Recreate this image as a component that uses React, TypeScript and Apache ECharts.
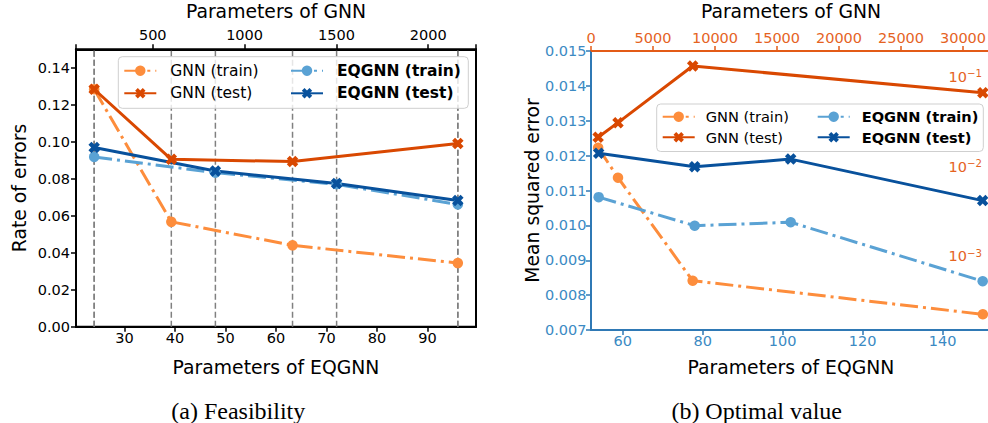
import React, { useEffect, useRef } from 'react';
import * as echarts from 'echarts';

// ---------- (a) Feasibility ----------
const eqgnnParamsA = [24, 48, 72, 96];
const gnnParamsA = [181, 601, 1261, 2161];
const gnnTrainA = [0.1284, 0.0567, 0.044, 0.0344];
const gnnTestA = [0.1284, 0.0905, 0.0893, 0.0991];
const eqgnnTrainA = [0.0918, 0.0833, 0.077, 0.0661];
const eqgnnTestA = [0.0969, 0.0842, 0.0774, 0.0683];
const xTicksBottomA = [30, 40, 50, 60, 70, 80, 90];
const xTicksTopA = [500, 1000, 1500, 2000];
const yTicksA = [0, 0.02, 0.04, 0.06, 0.08, 0.1, 0.12, 0.14];

// ---------- (b) Optimal value ----------
const eqgnnParamsB = [54, 78, 102, 150];
const gnnParamsB = [577, 2177, 8200, 31600];
const eqgnnTrainB = [0.01081, 0.00999, 0.01009, 0.0084];
const eqgnnTestB = [0.01207, 0.01168, 0.0119, 0.01071];
const gnnTrainB = [0.01622, 0.0075, 0.00053, 0.000223];
const gnnTestB = [0.0212, 0.0309, 0.1327, 0.0668];
const xTicksBottomB = [60, 80, 100, 120, 140];
const xTicksTopB = [0, 5000, 10000, 15000, 20000, 25000, 30000];
const yTicksB = [0.007, 0.008, 0.009, 0.01, 0.011, 0.012, 0.013, 0.014, 0.015];

const FONT = '"DejaVu Sans", sans-serif';
const X_PATH = 'path://M0,2.6L2.6,0L5,2.4L7.4,0L10,2.6L7.6,5L10,7.4L7.4,10L5,7.6L2.6,10L0,7.4L2.4,5Z';
const C_GNN_TRAIN = '#fd8d3c';
const C_GNN_TEST = '#d94801';
const C_EQ_TRAIN = '#5aa2d4';
const C_EQ_TEST = '#08519c';
const C_BLUE_AXIS = '#2f79b5';
const C_BLUE_TEXT = '#3b8ac3';
const C_ORANGE_AXIS = '#e35b17';
const C_ORANGE_TEXT = '#e5631f';
const DASHDOT = [18, 5, 3, 5];

const Y_MIN_A = 0;
const Y_MAX_A = 0.15;

function pairs(xs: number[], ys: number[]) {
  return xs.map((x, i) => [x, ys[i]]);
}

function lineSeries(name: string, xs: number[], ys: number[], xi: number, yi: number, color: string, train: boolean) {
  return {
    type: 'line',
    name,
    xAxisIndex: xi,
    yAxisIndex: yi,
    data: pairs(xs, ys),
    symbol: train ? 'circle' : X_PATH,
    symbolSize: train ? 10.5 : 11.5,
    showAllSymbol: true,
    lineStyle: { color, width: 3, type: train ? DASHDOT : 'solid', cap: 'butt' },
    itemStyle: { color, borderWidth: 0 },
    z: 3,
    silent: true,
  };
}

function vline(x: number, xi: number) {
  return {
    type: 'line',
    xAxisIndex: xi,
    yAxisIndex: 0,
    data: [[x, Y_MIN_A], [x, Y_MAX_A]],
    symbol: 'none',
    lineStyle: { color: '#808080', width: 1.5, type: [6, 3] },
    z: 1,
    silent: true,
  };
}

function inTicks(ticks: number[], v: number) {
  return ticks.some((t) => Math.abs(t - v) < 1e-9 * Math.max(1, Math.abs(t)));
}

function valueAxis(extra: any, ticks: number[], color: string, textColor: string, fmt: (v: number) => string, margin: number, useCustom = true) {
  const tick: any = { show: true, length: 5, inside: false, lineStyle: { color, width: 1.5 } };
  const label: any = {
    formatter: (v: number) => (inTicks(ticks, v) ? fmt(v) : ''),
    fontSize: 14.5,
    color: textColor,
    fontFamily: FONT,
    margin,
    hideOverlap: false,
  };
  if (useCustom) {
    tick.customValues = ticks;
    label.customValues = ticks;
  }
  return {
    type: 'value',
    splitLine: { show: false },
    axisLine: { show: true, onZero: false, lineStyle: { color, width: 2 } },
    axisTick: tick,
    axisLabel: label,
    nameTextStyle: { fontSize: 18.8, color: '#000', fontFamily: FONT },
    nameLocation: 'middle',
    nameMoveOverlap: false,
    ...extra,
  };
}

const legendText = (size: number, pad: number) => ({
  fontSize: size,
  color: '#000',
  fontFamily: FONT,
  lineHeight: 16,
  padding: [0, 0, 0, pad],
});

export default function App() {
  const ref = useRef<HTMLDivElement>(null);
  useEffect(() => {
    if (!ref.current) return;
    const chart = echarts.init(ref.current, undefined, { renderer: 'svg' });
    const logRich = {
      b: { fontSize: 14.5, lineHeight: 16, color: C_ORANGE_TEXT, fontFamily: FONT },
      s: { fontSize: 10.2, lineHeight: 4, verticalAlign: 'top', color: C_ORANGE_TEXT, fontFamily: FONT },
    };
    const option: any = {
      animation: false,
      backgroundColor: '#ffffff',
      grid: [
        { left: 76, top: 49.3, width: 400, height: 277.4, show: true, borderColor: '#000', borderWidth: 2, backgroundColor: 'transparent', containLabel: false, outerBoundsMode: 'none' },
        { left: 591, top: 51, width: 400, height: 279, show: false, containLabel: false, outerBoundsMode: 'none' },
      ],
      xAxis: [
        valueAxis({ gridIndex: 0, position: 'bottom', min: 20.4, max: 99.6, name: 'Parameters of EQGNN', nameGap: 31 }, xTicksBottomA, '#000', '#000', (v) => String(v), 4),
        valueAxis({ gridIndex: 0, position: 'top', min: 82, max: 2260, splitNumber: 5, name: 'Parameters of GNN', nameGap: 28 }, xTicksTopA, '#000', '#000', (v) => String(v), 7, false),
        valueAxis({ gridIndex: 1, position: 'bottom', min: 52.08, max: 152.08, name: 'Parameters of EQGNN', nameGap: 28 }, xTicksBottomB, C_BLUE_AXIS, C_BLUE_TEXT, (v) => String(v), 3),
        valueAxis({ gridIndex: 1, position: 'top', min: 0, max: 32258, name: 'Parameters of GNN', nameGap: 29.6 }, xTicksTopB, C_ORANGE_AXIS, C_ORANGE_TEXT, (v) => String(v), 6),
      ],
      yAxis: [
        valueAxis({ gridIndex: 0, position: 'left', min: Y_MIN_A, max: Y_MAX_A, name: 'Rate of errors', nameGap: 47, nameRotate: 90 }, yTicksA, '#000', '#000', (v) => v.toFixed(2), 6),
        valueAxis({ gridIndex: 1, position: 'left', min: 0.007, max: 0.015, name: 'Mean squared error', nameGap: 49, nameRotate: 90 }, yTicksB, C_BLUE_AXIS, C_BLUE_TEXT, (v) => v.toFixed(3), 4.5),
        {
          gridIndex: 1,
          type: 'log',
          logBase: 10,
          position: 'right',
          min: Math.pow(10, -3.8268),
          max: Math.pow(10, -0.7095),
          splitLine: { show: false },
          minorTick: { show: false },
          minorSplitLine: { show: false },
          axisLine: { show: false },
          axisTick: { show: false },
          axisLabel: {
            inside: true,
            margin: 9,
            formatter: (v: number) => {
              const e = Math.log10(v);
              const r = Math.round(e);
              if (Math.abs(e - r) > 1e-6) return '';
              return `{b|10}{s|${r < 0 ? '\u2212' : ''}${Math.abs(r)}}`;
            },
            rich: logRich,
          },
        },
      ],
      legend: [
        { data: [{ name: 'GNN (train)' }, { name: 'GNN (test)' }], orient: 'vertical', left: 123.3, top: 62.7, padding: 0, itemWidth: 32, itemHeight: 13, itemGap: 6.6, selectedMode: false, textStyle: legendText(15.5, 9), z: 10 },
        { data: [{ name: 'EQGNN (train)', textStyle: { fontWeight: 'bold' } }, { name: 'EQGNN (test)', textStyle: { fontWeight: 'bold' } }], orient: 'vertical', left: 290, top: 62.7, padding: 0, itemWidth: 32, itemHeight: 13, itemGap: 6.6, selectedMode: false, textStyle: legendText(15.5, 9), z: 10 },
        { data: [{ name: 'GNN (train)' }, { name: 'GNN (test)' }], orient: 'vertical', left: 661.7, top: 108.7, padding: 0, itemWidth: 32, itemHeight: 13, itemGap: 4.6, selectedMode: false, textStyle: legendText(14.6, 6), z: 10 },
        { data: [{ name: 'EQGNN (train)', textStyle: { fontWeight: 'bold' } }, { name: 'EQGNN (test)', textStyle: { fontWeight: 'bold' } }], orient: 'vertical', left: 816.7, top: 108.7, padding: 0, itemWidth: 32, itemHeight: 13, itemGap: 4.6, selectedMode: false, textStyle: legendText(14.6, 7), z: 10 },
      ],
      graphic: [
        { type: 'rect', z: 8, shape: { x: 118.3, y: 56.7, width: 350, height: 51.6, r: 4 }, style: { fill: 'rgba(255,255,255,0.8)', stroke: '#cfcfcf', lineWidth: 1 } },
        { type: 'rect', z: 8, shape: { x: 656.7, y: 104, width: 326.6, height: 47.5, r: 4 }, style: { fill: 'rgba(255,255,255,0.8)', stroke: '#cfcfcf', lineWidth: 1 } },
        { type: 'text', z: 10, x: 238.3, y: 410.5, style: { text: '(a) Feasibility', fontSize: 24, fontFamily: '"Liberation Serif", serif', fill: '#000', align: 'center', verticalAlign: 'middle', textAlign: 'center', textVerticalAlign: 'middle' } },
        { type: 'text', z: 10, x: 756.7, y: 410.5, style: { text: '(b) Optimal value', fontSize: 24, fontFamily: '"Liberation Serif", serif', fill: '#000', align: 'center', verticalAlign: 'middle', textAlign: 'center', textVerticalAlign: 'middle' } },
      ],
      series: [
        ...eqgnnParamsA.map((x) => vline(x, 0)),
        ...gnnParamsA.map((x) => vline(x, 1)),
        lineSeries('GNN (train)', gnnParamsA, gnnTrainA, 1, 0, C_GNN_TRAIN, true),
        lineSeries('GNN (test)', gnnParamsA, gnnTestA, 1, 0, C_GNN_TEST, false),
        lineSeries('EQGNN (train)', eqgnnParamsA, eqgnnTrainA, 0, 0, C_EQ_TRAIN, true),
        lineSeries('EQGNN (test)', eqgnnParamsA, eqgnnTestA, 0, 0, C_EQ_TEST, false),
        lineSeries('GNN (train)', gnnParamsB, gnnTrainB, 3, 2, C_GNN_TRAIN, true),
        lineSeries('GNN (test)', gnnParamsB, gnnTestB, 3, 2, C_GNN_TEST, false),
        lineSeries('EQGNN (train)', eqgnnParamsB, eqgnnTrainB, 2, 1, C_EQ_TRAIN, true),
        lineSeries('EQGNN (test)', eqgnnParamsB, eqgnnTestB, 2, 1, C_EQ_TEST, false),
      ],
    };
    chart.setOption(option);
    return () => chart.dispose();
  }, []);
  return (
    <div
      ref={ref}
      style={{ position: 'absolute', left: 0, top: 0, width: 988, height: 423, background: '#fff' }}
    />
  );
}
